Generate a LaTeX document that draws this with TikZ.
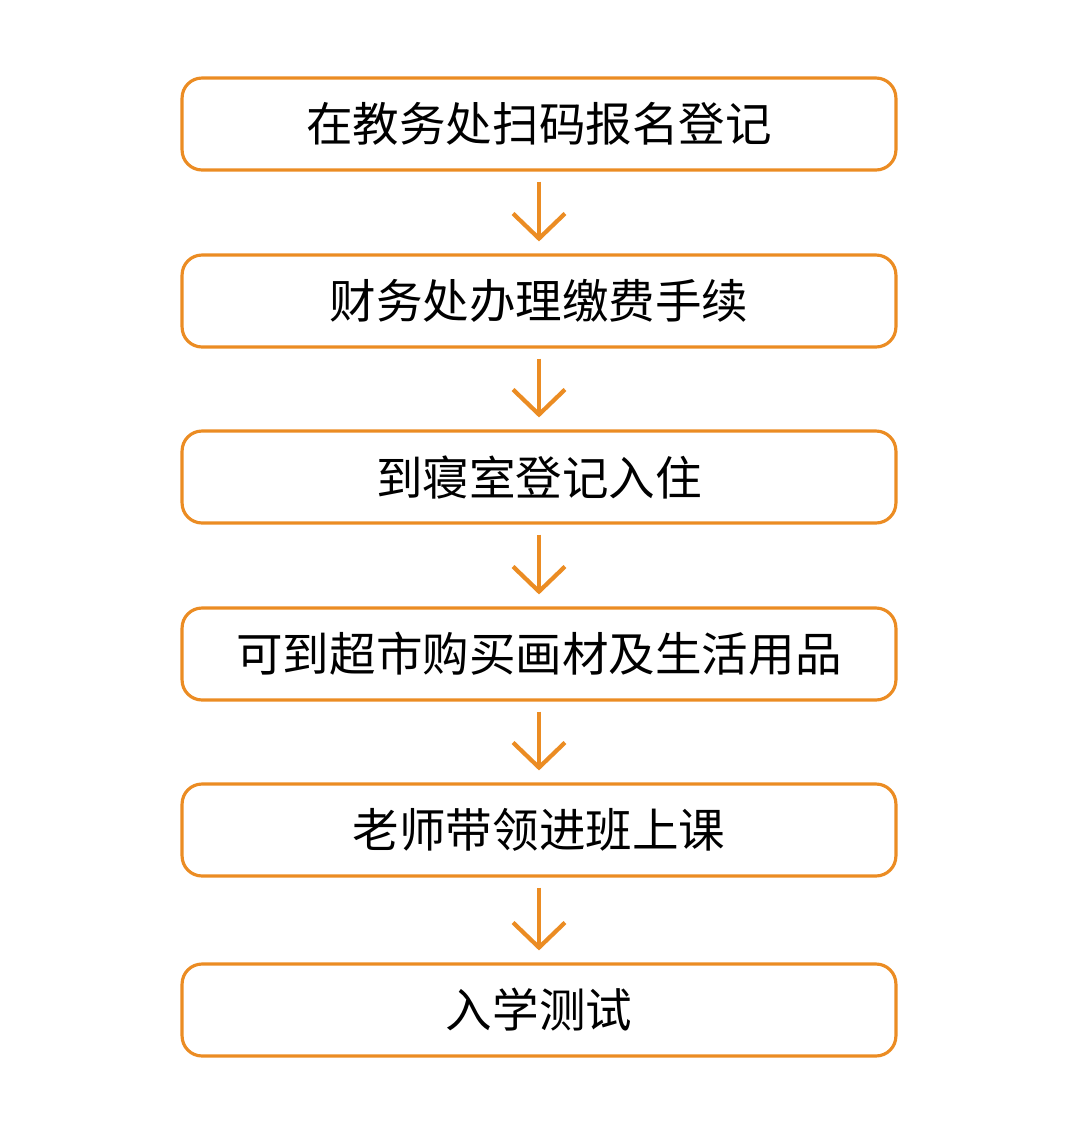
\documentclass[tikz,border=0pt]{standalone}
\usepackage{fontspec}
\newfontfamily\cjk{Noto Sans CJK SC}
\usetikzlibrary{arrows.meta}
\definecolor{stepOrange}{RGB}{235,140,35}

\begin{document}
\begin{tikzpicture}[x=0.02cm,y=-0.02cm,
  stepbox/.style={draw=stepOrange,line width=1.8pt,rounded corners=0.4cm,
    minimum width=14.28cm,minimum height=1.84cm,font=\cjk\fontsize{26.5}{30}\selectfont},
  flow/.style={draw=stepOrange,line width=2.4pt,shorten <=0.2cm,shorten >=0.24cm,
    -{Straight Barb[length=0.5cm,width=1.04cm,line width=2.4pt]}}]

\useasboundingbox (0,0) rectangle (1080,1147);

\node[stepbox] (s1) at (539,124) {在教务处扫码报名登记};
\node[stepbox] (s2) at (539,301) {财务处办理缴费手续};
\node[stepbox] (s3) at (539,477) {到寝室登记入住};
\node[stepbox] (s4) at (539,654) {可到超市购买画材及生活用品};
\node[stepbox] (s5) at (539,830) {老师带领进班上课};
\node[stepbox] (s6) at (539,1010) {入学测试};

\draw[flow] (s1) -- (s2);
\draw[flow] (s2) -- (s3);
\draw[flow] (s3) -- (s4);
\draw[flow] (s4) -- (s5);
\draw[flow] (s5) -- (s6);

\end{tikzpicture}
\end{document}
